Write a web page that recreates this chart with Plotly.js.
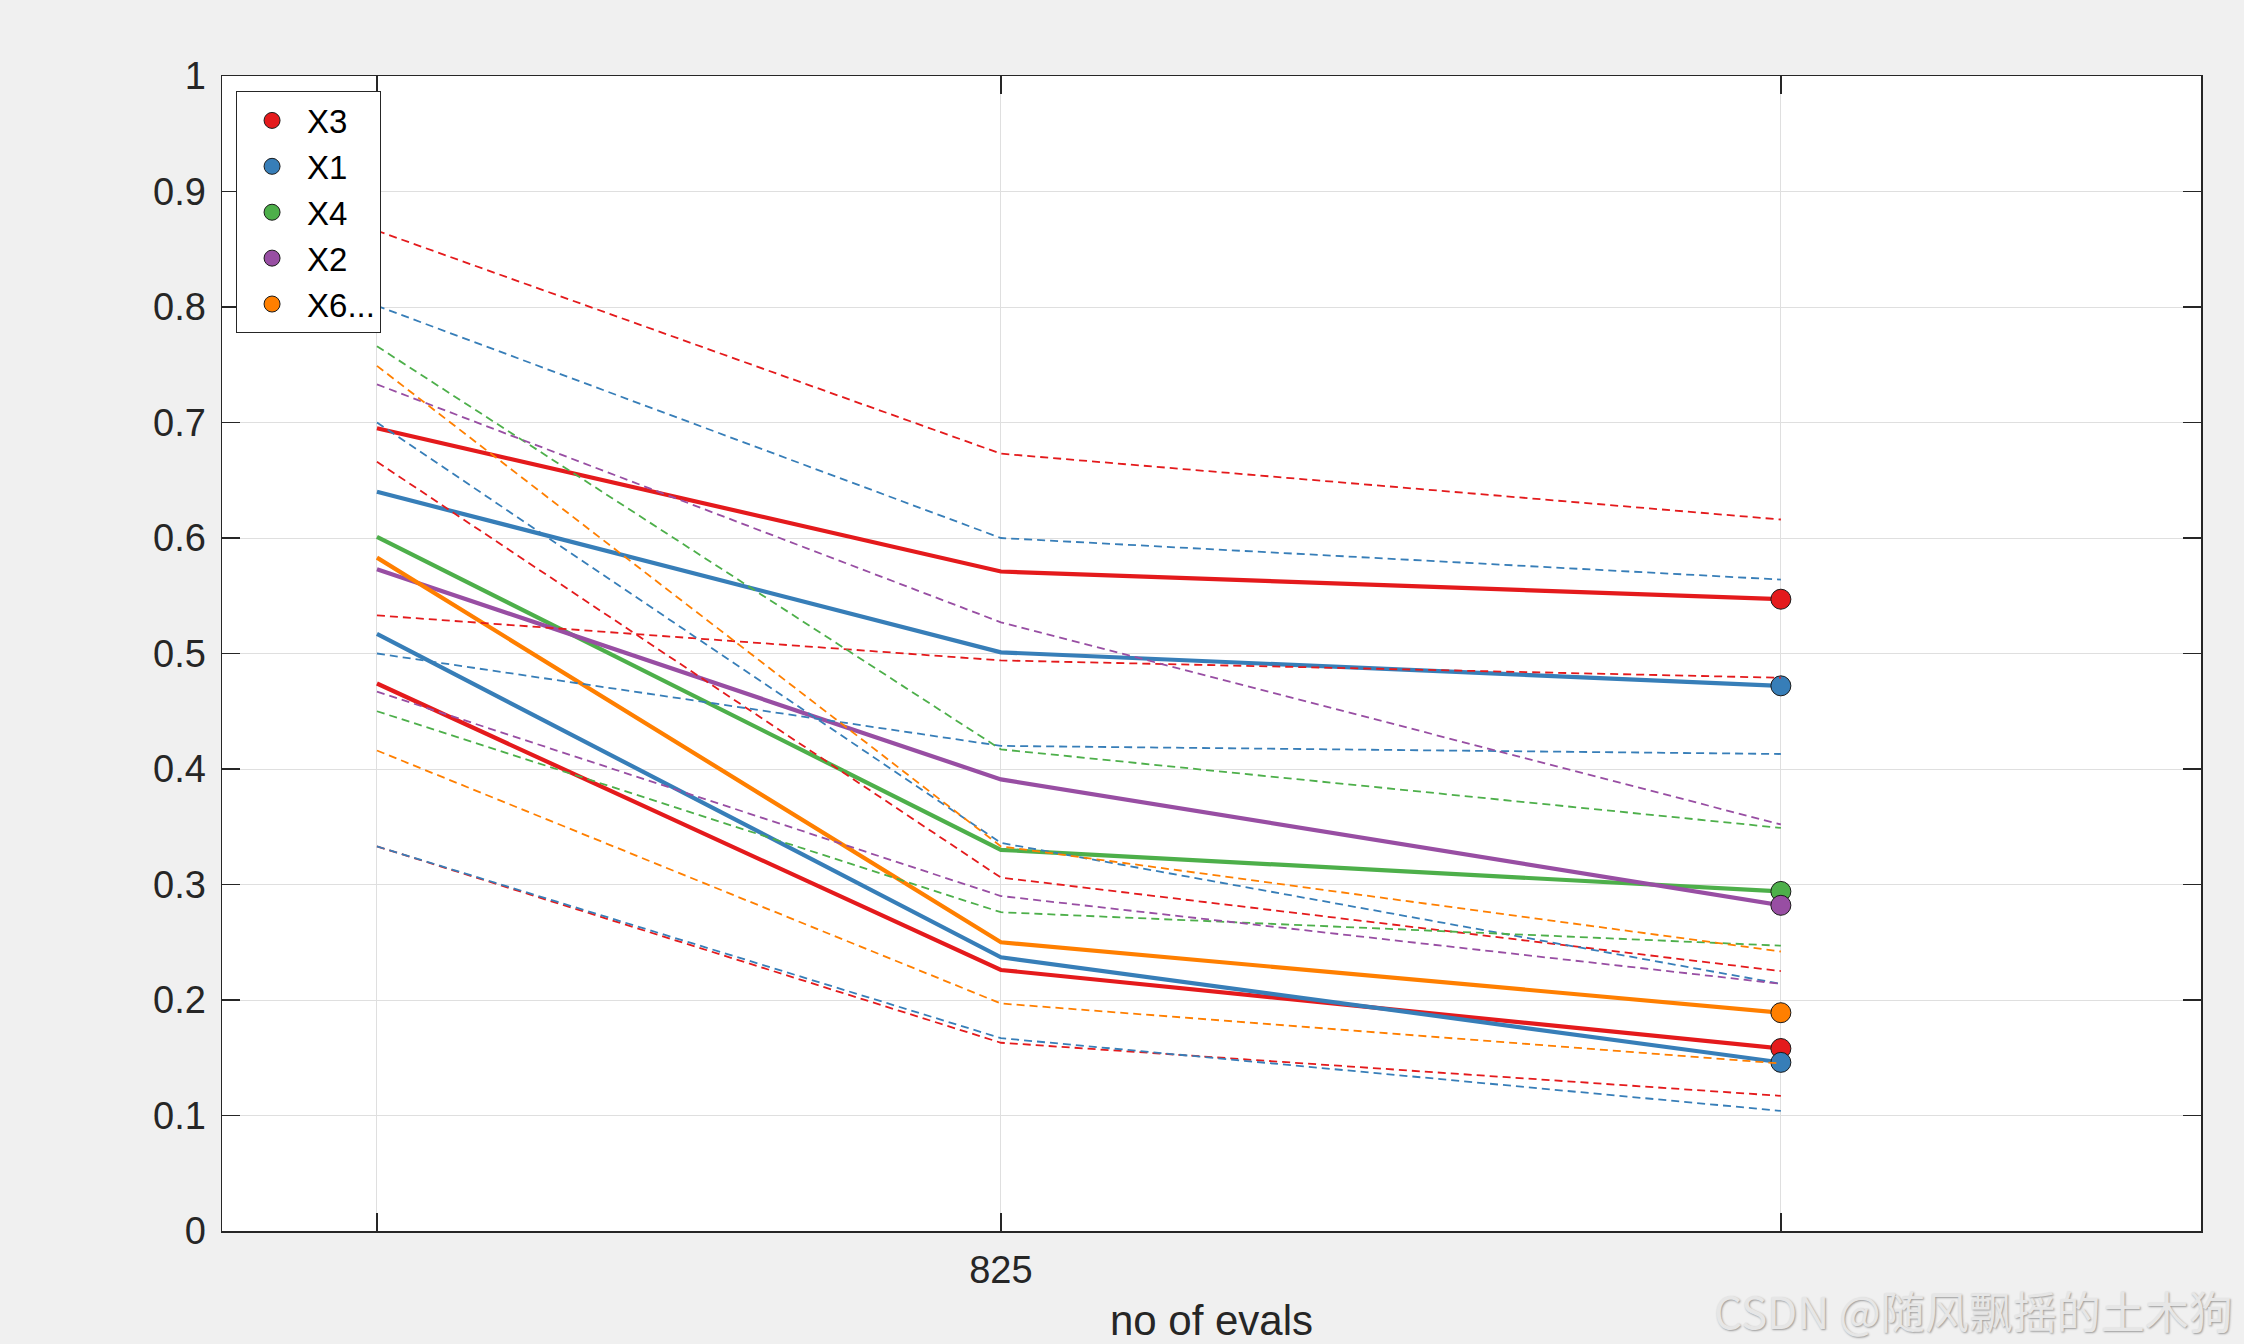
<!DOCTYPE html>
<html>
<head>
<meta charset="utf-8">
<script src="https://cdn.plot.ly/plotly-3.0.1.min.js"></script>
<style>html,body{margin:0;padding:0;background:#f0f0f0;}</style>
</head>
<body>
<div id="chart" style="width:2244px;height:1344px;"></div>
<script>
// ---- data ----
const xEvals = [225, 825, 1575];
const xTickLabels = ['', '825', ''];
const yTickVals = [0, 0.1, 0.2, 0.3, 0.4, 0.5, 0.6, 0.7, 0.8, 0.9, 1];

const seriesNames = ['X3', 'X1', 'X4', 'X2', 'X6...'];
const seriesColors = ['#e41a1c', '#377eb8', '#4daf4a', '#984ea3', '#ff7f00'];

// mean lines (solid)
const meanX3a = [0.695, 0.571, 0.547];
const meanX3b = [0.474, 0.226, 0.158];
const meanX1a = [0.640, 0.501, 0.472];
const meanX1b = [0.517, 0.237, 0.146];
const meanX4  = [0.601, 0.330, 0.294];
const meanX2  = [0.573, 0.391, 0.282];
const meanX6  = [0.583, 0.250, 0.189];

// bound lines (dashed)
const upX3a = [0.866, 0.673, 0.616];
const loX3a = [0.533, 0.494, 0.479];
const upX3b = [0.666, 0.306, 0.225];
const loX3b = [0.333, 0.163, 0.117];
const upX1a = [0.801, 0.600, 0.564];
const loX1a = [0.500, 0.420, 0.413];
const upX1b = [0.700, 0.336, 0.214];
const loX1b = [0.333, 0.167, 0.104];
const upX4  = [0.766, 0.417, 0.349];
const loX4  = [0.450, 0.276, 0.247];
const upX2  = [0.733, 0.527, 0.352];
const loX2  = [0.467, 0.290, 0.214];
const upX6  = [0.749, 0.333, 0.242];
const loX6  = [0.416, 0.197, 0.145];

const groups = [
  {means: [meanX3a, meanX3b], bounds: [upX3a, loX3a, upX3b, loX3b]},
  {means: [meanX1a, meanX1b], bounds: [upX1a, loX1a, upX1b, loX1b]},
  {means: [meanX4], bounds: [upX4, loX4]},
  {means: [meanX2], bounds: [upX2, loX2]},
  {means: [meanX6], bounds: [upX6, loX6]}
];

const FONT = 'Liberation Sans, Arial, Helvetica, sans-serif';
const traces = [];

// solid mean lines
groups.forEach((g, i) => {
  g.means.forEach(m => {
    traces.push({x: xEvals, y: m, type: 'scatter', mode: 'lines', showlegend: false, hoverinfo: 'skip',
      line: {color: seriesColors[i], width: 4.2}});
  });
});
// endpoint markers (legend entries)
groups.forEach((g, i) => {
  const last = xEvals.length - 1;
  traces.push({x: g.means.map(() => xEvals[last]), y: g.means.map(m => m[last]),
    type: 'scatter', mode: 'markers', name: seriesNames[i], showlegend: true,
    marker: {color: seriesColors[i], size: 20, line: {color: '#1a1a1a', width: 1}}});
});
// dashed bound lines
groups.forEach((g, i) => {
  g.bounds.forEach(b => {
    traces.push({x: xEvals, y: b, type: 'scatter', mode: 'lines', showlegend: false, hoverinfo: 'skip',
      line: {color: seriesColors[i], width: 1.8, dash: '8px,5px'}});
  });
});

const axisCommon = {
  showgrid: true, gridcolor: '#dfdfdf', gridwidth: 1,
  ticks: 'inside', ticklen: 18, tickwidth: 1.5, tickcolor: '#262626',
  showline: true, linecolor: '#262626', linewidth: 1.5, mirror: 'ticks',
  zeroline: false, automargin: false,
  tickfont: {family: FONT, size: 38, color: '#262626'}
};

const layout = {
  width: 2244, height: 1344,
  paper_bgcolor: '#f0f0f0', plot_bgcolor: '#ffffff',
  margin: {l: 222, r: 43, t: 76, b: 113, pad: 0},
  font: {family: FONT, color: '#262626'},
  xaxis: Object.assign({}, axisCommon, {
    range: [76, 1979], tickmode: 'array', tickvals: xEvals, ticktext: xTickLabels,
    ticklabelstandoff: 5,
    title: {text: 'no of evals', font: {family: FONT, size: 42, color: '#262626'}, standoff: 25}
  }),
  yaxis: Object.assign({}, axisCommon, {
    range: [0, 1], tickmode: 'array', tickvals: yTickVals,
    ticklabelstandoff: 7
  }),
  legend: {
    x: 0.0071, y: 0.9866, xanchor: 'left', yanchor: 'top',
    bgcolor: '#ffffff', bordercolor: '#262626', borderwidth: 1,
    font: {family: FONT, size: 33, color: '#000000'},
    itemsizing: 'trace', itemwidth: 60, tracegroupgap: 0
  },
  annotations: [{
    xref: 'paper', yref: 'paper', x: 1.0172, y: -0.068, xanchor: 'right', yanchor: 'middle',
    text: 'CSDN @随风飘摇的土木狗', showarrow: false,
    font: {family: 'Noto Sans CJK SC, sans-serif', size: 44, color: '#e6e6e6', shadow: '1px 1px 2px #9a9a9a'}
  }]
};

Plotly.newPlot('chart', traces, layout, {displayModeBar: false, staticPlot: true});
</script>
</body>
</html>
